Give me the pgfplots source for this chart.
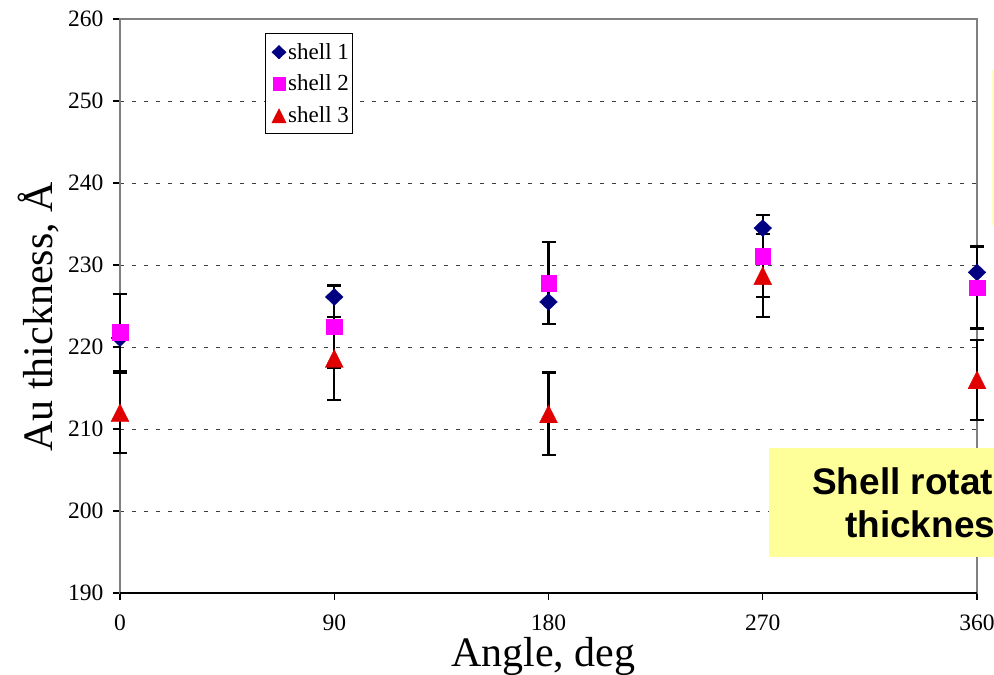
\documentclass[border=0pt]{standalone}
\usepackage{fontspec}
\setmainfont{Liberation Serif}
\newfontfamily\arialfont{Liberation Sans}
\usepackage{pgfplots}
\usepackage{pgfplotstable}
\pgfplotsset{compat=1.18}
\definecolor{navy}{RGB}{0,0,128}
\definecolor{mag}{RGB}{255,0,255}
\definecolor{xred}{RGB}{224,0,0}
\definecolor{boxyellow}{RGB}{255,255,153}
\definecolor{framegray}{RGB}{128,128,128}

\pgfplotstableread{
x y
0 221.1
90 226.1
180 225.5
270 234.5
360 229.1
}\shellone
\pgfplotstableread{
x y e
0 221.8 4.7
90 222.5 5.0
180 227.8 5.0
270 231.1 5.0
360 227.25 5.0
}\shelltwo
\pgfplotstableread{
x y e
0 212.0 4.9
90 218.6 5.05
180 211.85 5.05
270 228.7 5.05
360 216.0 4.9
}\shellthree

\begin{document}
\begin{tikzpicture}
\begin{axis}[
  at={(120pt,82pt)}, anchor=south west,
  scale only axis, width=857pt, height=574pt,
  xmin=0, xmax=360, ymin=190, ymax=260,
  xtick={0,90,180,270,360}, ytick={190,200,...,260},
  clip=false,
  axis line style={framegray, line width=2.5pt},
  tick style={black, line width=1.2pt},
  major tick length=7pt,
  tick align=outside,
  xtick pos=bottom, ytick pos=left,
  ymajorgrids,
  major grid style={black!75, line width=0.9pt, dash pattern=on 4pt off 8pt},
  ticklabel style={font=\fontsize{23.5}{23.5}\selectfont},
  xticklabel style={yshift=-11pt},
  yticklabel style={xshift=-6pt},
  /pgf/number format/assume math mode=true,
  xlabel={Angle, deg}, ylabel={Au thickness, Å},
  label style={font=\fontsize{42}{42}\selectfont},
  xlabel style={at={(axis description cs:0.494,-0.128)}, anchor=base},
  ylabel style={at={(axis description cs:-0.0793,0.481)}, anchor=base},
  legend style={at={(axis description cs:0.1692,0.9756)}, anchor=north west,
    draw=black, line width=1pt, fill=white, font=\fontsize{23}{23}\selectfont,
    inner xsep=2pt, inner ysep=8pt, row sep=10pt,
    cells={anchor=west, inner xsep=3pt}},
  legend image code/.code={\path (0pt,0pt); \draw[mark repeat=2,mark phase=2,#1] plot coordinates {(0pt,0pt)(11pt,0pt)(14pt,0pt)};},
]
\draw[black, line width=1.5pt] (rel axis cs:0,0) -- (rel axis cs:1,0);

\addplot[forget plot, only marks, mark=none,
  error bars/.cd, y dir=both, y explicit,
  error bar style={line width=2.2pt, black},
  error mark options={rotate=90, mark size=7pt, line width=2.2pt, black}]
  table[x=x, y=y, y error=e]{\shelltwo};
\addplot[forget plot, only marks, mark=none,
  error bars/.cd, y dir=both, y explicit,
  error bar style={line width=2.2pt, black},
  error mark options={rotate=90, mark size=7pt, line width=2.2pt, black}]
  table[x=x, y=y, y error=e]{\shellthree};

\addplot[only marks, mark=diamond*, mark size=8.5pt,
  mark options={fill=navy, draw=navy, xscale=1.4, line width=0.3pt},
  legend image post style={every mark/.append style={scale=0.8}}]
  table[x=x, y=y]{\shellone};
\addlegendentry{shell 1}
\addplot[only marks, mark=square*, mark size=7.8pt,
  mark options={fill=mag, draw=mag, line width=0.3pt},
  legend image post style={every mark/.append style={scale=0.8}}]
  table[x=x, y=y]{\shelltwo};
\addlegendentry{shell 2}
\addplot[only marks, mark=triangle*, mark size=10.4pt,
  mark options={fill=xred, draw=xred, line width=0.3pt, yshift=-3pt, yscale=1.15},
  legend image post style={every mark/.append style={scale=0.8}}]
  table[x=x, y=y]{\shellthree};
\addlegendentry{shell 3}
\end{axis}

\fill[boxyellow] (769pt,118pt) rectangle (1050pt,227pt);
\node[anchor=base west, inner sep=0pt, font=\arialfont\bfseries\fontsize{37}{37}\selectfont] at (812pt,180pt) {Shell rotation};
\node[anchor=base west, inner sep=0pt, font=\arialfont\bfseries\fontsize{37}{37}\selectfont] at (845pt,137pt) {thickness};
\fill[boxyellow!60] (992pt,450pt) rectangle (1000pt,605pt);

\pgfresetboundingbox
\path[use as bounding box] (0pt,0pt) rectangle (994pt,675pt);
\end{tikzpicture}
\end{document}
